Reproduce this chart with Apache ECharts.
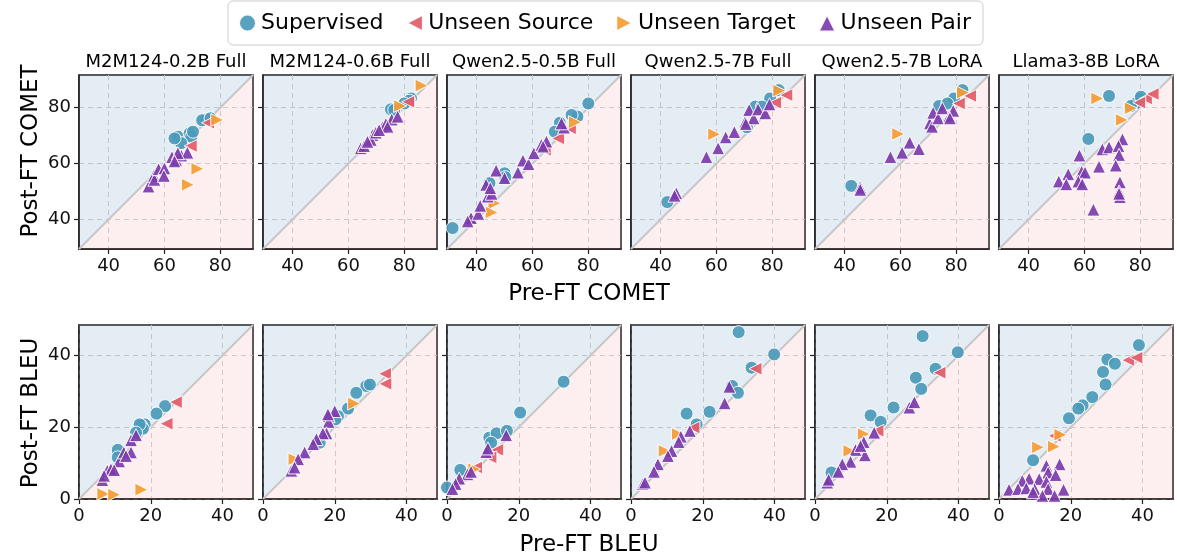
<!DOCTYPE html>
<html>
<head>
<meta charset="utf-8">
<script src="https://cdn.jsdelivr.net/npm/echarts@6/dist/echarts.min.js"></script>
<style>
html,body{margin:0;padding:0;background:#fff}
#chart{width:1177px;height:557px}
</style>
</head>
<body>
<div id="chart"></div>
<script>
var panelTitles = ['M2M124-0.2B Full', 'M2M124-0.6B Full', 'Qwen2.5-0.5B Full', 'Qwen2.5-7B Full', 'Qwen2.5-7B LoRA', 'Llama3-8B LoRA'];
var groupNames = ['Supervised', 'Unseen Source', 'Unseen Target', 'Unseen Pair'];
var cometTicks = [40, 60, 80];
var bleuTicks = [0, 20, 40];
var cometRange = [29.4, 91.7];
var bleuRange = [0, 48.5];

// one list per panel, points are [pre, post]
var cometSupervised = [
    [[75,75.8],[73.5,75.5],[76.5,76.2],[64.8,69.6],[69,70.8],[69.6,69.6],[66,67.3],[63.6,69],[70.2,71.4]],
    [[82.4,83.3],[81.8,82.5],[75.2,79.4],[76.4,79.2],[80,81.5]],
    [[31.4,36.9],[80,81.5],[76.1,76.8],[74,77.4],[69.8,74.6],[68,71.4],[50,56.5],[44.6,53],[50.3,55.1]],
    [[42.4,46.2],[82.3,86.3],[79.2,83.3],[73.9,80.4],[70.9,73],[76.3,80.4]],
    [[42.4,52],[82.2,86.3],[79.2,83.3],[73.8,80.6],[76.8,81.5]],
    [[68.8,84.2],[61.4,68.8],[79.6,83],[78.4,81.5],[76.6,80.6],[80.2,83.9]]
];
var cometSource = [
    [[75.6,74.6],[69.4,66.3]],
    [[81.4,82.1]],
    [[73.4,72.6],[69.2,69],[64.4,64.9]],
    [[81,81.8],[85,84.5]],
    [[80.9,81.5],[84.9,84.2]],
    [[82,83.3],[84.4,84.9],[79.6,81.8]]
];
var cometTarget = [
    [[78.9,75.6],[71.8,58.1],[68.4,52.4]],
    [[86.2,87.9],[78.5,80.6]],
    [[75.2,74.8],[46.4,45.8],[45.4,42.5]],
    [[59.2,70.5],[82.5,86.1]],
    [[59.2,70.6],[82.4,85.4]],
    [[64.6,83.3],[76.6,79.8],[73.4,75.6]]
];
var cometPair = [
    [[54.3,51.8],[56.2,55.6],[56.4,54.2],[57.9,58],[60,58.3],[59.8,55.6],[62.7,62.3],[64.2,61.3],[66,62.9],[68.2,63.9],[64.8,63.7],[63.6,60.8]],
    [[64.4,65.5],[65.6,66.3],[68.6,70.2],[68,68.5],[72.2,73],[73.4,74.2],[75.5,75.8],[77.6,76.8],[69.8,71.1],[66.8,67.8],[74,73.2],[71,72]],
    [[38,40.5],[36.8,39.3],[40.6,42],[41.3,44.9],[44,48.2],[45.4,49.2],[43.4,52.4],[47,57.5],[50,54.8],[54.8,56.8],[56.6,61.1],[58.6,59.8],[60.5,63.7],[63.2,66.7],[65,67.9],[71.3,72.9],[70.4,74.4],[44.9,51.2],[63.8,66.1]],
    [[45.6,49.4],[45,48.5],[56.4,62.3],[60.6,65.5],[63.3,69.4],[66.4,71.3],[70.3,75],[71.7,79.2],[73.3,76.2],[74.9,79.4],[77.5,78],[79,81.2],[70.5,74.2]],
    [[45.6,51.5],[45.6,50.6],[56.4,62.3],[60.6,63.9],[63.3,67.5],[66.6,65.2],[70.5,74.4],[71.3,73.2],[71.7,78.2],[73.5,76.2],[75,79.8],[77.5,77],[78.9,78.9],[77.7,76.2]],
    [[73.6,68.7],[66.4,65.1],[68.8,65.8],[72.2,66.3],[72.4,63.1],[58.2,62.9],[65.2,58.9],[71.2,59.3],[54.2,56.2],[50.8,53.6],[53.5,52.6],[59,57.1],[60.2,56.8],[57.8,53.6],[59.2,52.6],[72.7,53.3],[72.4,50],[72.7,48],[63.2,43.5],[72.4,49.2]]
];

var bleuSupervised = [
    [[24,25.9],[21.6,23.8],[18.3,20.8],[17.4,20.4],[17.8,19.6],[16.9,20.8],[15.9,18.5],[10.8,13.7],[10.8,11.6]],
    [[28.8,31.5],[29.8,31.9],[26,29.6],[23.7,25.2],[20.9,23.1],[20.2,22.2],[15.8,15.7]],
    [[32.5,32.7],[20.4,24.1],[11.8,17.1],[13.8,18.3],[16.7,19],[12.3,15.7],[3.7,8.1],[0,3.2]],
    [[30,46.5],[39.9,40.3],[33.6,36.6],[28.2,31.5],[29.8,29.6],[21.9,24.3],[15.5,23.8],[18.3,20.8]],
    [[30,45.4],[39.8,40.9],[33.6,36.3],[28.1,33.8],[29.6,30.7],[21.9,25.5],[15.5,23.3],[18.3,21.5],[4.6,7.4]],
    [[39,42.9],[30.2,38.9],[32.3,37.7],[29,35.4],[29.7,31.9],[26,28.4],[23.3,26.1],[22.1,25.2],[19.5,22.5],[9.5,10.8]]
];
var bleuSource = [
    [[27,27],[24.4,21]],
    [[34,34.9],[34.1,32.1]],
    [[14,13.7],[12.1,11.6],[8.1,8.8]],
    [[34.7,36.3],[17.4,19.9]],
    [[34.7,35.2],[17.4,19]],
    [[36,38.7],[38.3,39.4],[15.5,17.6]]
];
var bleuTarget = [
    [[6.8,1.4],[9.8,1.2],[17.4,2.6]],
    [[25.4,26.6],[8.8,11.1]],
    [[7.6,8.3]],
    [[13.1,18.1],[9.4,13.4]],
    [[13.6,18.1],[9.6,13.4]],
    [[17.1,17.9],[10.9,14.4],[15.3,14.6]]
];
var bleuPair = [
    [[6.5,5.3],[7.9,7.9],[8.9,8.3],[11.2,10.5],[12.5,13],[14.5,13],[14.5,16.4],[15.9,17.8],[13.1,12],[7,6.5],[9.8,8.1]],
    [[20,24.5],[18.3,23.1],[18.3,21.5],[17.7,18.3],[16.7,18.3],[14.9,16.7],[14,15.3],[11.6,13],[9.8,11.1],[7.9,7.9],[8.8,8.8],[18.1,23.6]],
    [[16.5,17.8],[10.9,13.1],[5.7,6.9],[3.4,5.7],[2.4,4.2],[1.5,2.8],[6.7,7.6],[11.4,14.1]],
    [[27.4,31.3],[26.1,26.7],[16.4,19],[13.9,17.4],[13.3,15.9],[11.3,13.4],[10.3,12],[7.5,9.7],[6.4,7.6],[3.3,4.2],[3.9,4.6]],
    [[26.3,25.5],[27.7,27],[16.5,18.5],[13.6,15.9],[13.9,12.2],[11.3,13.7],[9.9,10.4],[7.6,9.7],[6.5,7.6],[3.4,4.6],[3.8,5.4],[12.7,14.8]],
    [[16.9,9.7],[13.2,9.3],[13.7,7.4],[15.8,6.7],[8.4,5.7],[11.2,5.6],[6.5,5.1],[13.2,4.8],[2.8,2.6],[5.3,2.8],[7.6,3],[9.9,2.8],[13.7,2.8],[18,2.6],[12.1,0.9],[15.5,0.9],[9.5,1.9]]
];

var colors = ['#4b9aba', '#e35b69', '#f59b34', '#7c3bab'];
var symbols = ['circle', 'path://M10,0 L0,5.2 L10,10.4 Z', 'path://M0,0 L10,5.2 L0,10.4 Z', 'triangle'];
var FONT = 'DejaVu Sans';

var chart = echarts.init(document.getElementById('chart'));
var grids = [], xAxes = [], yAxes = [], series = [], graphics = [];

function makeAxis(g, range, ticks, showLabel) {
    return {
        type: 'value', gridIndex: g, min: range[0], max: range[1],
        axisLine: {show: true, onZero: false, lineStyle: {color: '#222', width: 1.5}},
        axisTick: {show: true, length: 5, customValues: ticks, lineStyle: {color: '#222', width: 1.2}},
        axisLabel: {show: showLabel, customValues: ticks, fontSize: 18, color: '#111', fontFamily: FONT, margin: 8},
        splitLine: {show: true, lineStyle: {color: '#d2d2d2', type: [5, 4], width: 1}}
    };
}

for (var row = 0; row < 2; row++) {
    var range = row === 0 ? cometRange : bleuRange;
    var ticks = row === 0 ? cometTicks : bleuTicks;
    var groups = row === 0 ? [cometSupervised, cometSource, cometTarget, cometPair]
                           : [bleuSupervised, bleuSource, bleuTarget, bleuPair];
    for (var col = 0; col < 6; col++) {
        var g = row * 6 + col;
        grids.push({left: 79 + 184 * col, top: row === 0 ? 75 : 325, width: 174, height: 174,
            show: true, borderColor: '#222', borderWidth: 1.5});
        xAxes.push(makeAxis(g, range, ticks, true));
        yAxes.push(makeAxis(g, range, ticks, col === 0));
        var diag = [[range[0], range[0]], [range[1], range[1]]];
        series.push({
            type: 'line', name: 'upper', xAxisIndex: g, yAxisIndex: g, data: diag,
            symbol: 'none', silent: true, z: 1, lineStyle: {width: 0},
            areaStyle: {color: 'rgba(70,130,180,0.2)', origin: 'end'}
        });
        series.push({
            type: 'line', name: 'lower', xAxisIndex: g, yAxisIndex: g, data: diag,
            symbol: 'none', silent: true, z: 1, lineStyle: {width: 2, color: '#c6c6c6'},
            areaStyle: {color: 'rgba(240,125,125,0.18)', origin: 'start'}
        });
        for (var k = 0; k < 4; k++) {
            series.push({
                type: 'scatter', name: groupNames[k], xAxisIndex: g, yAxisIndex: g,
                data: groups[k][col], symbol: symbols[k], symbolSize: k === 0 ? 13 : 13, z: 3 + k,
                itemStyle: {color: colors[k], borderColor: '#fff', borderWidth: 1, opacity: 0.92}
            });
        }
        if (row === 0) {
            graphics.push({type: 'text', x: 79 + 184 * col + 87, y: 62,
                style: {text: panelTitles[col], font: '18px ' + FONT, fill: '#000', align: 'center', verticalAlign: 'middle'}});
        }
    }
}

graphics.push({type: 'text', x: 589, y: 294, style: {text: 'Pre-FT COMET', font: '23px ' + FONT, fill: '#000', align: 'center', verticalAlign: 'middle'}});
graphics.push({type: 'text', x: 589, y: 545, style: {text: 'Pre-FT BLEU', font: '23px ' + FONT, fill: '#000', align: 'center', verticalAlign: 'middle'}});
graphics.push({type: 'text', x: 31, y: 151, rotation: Math.PI / 2, style: {text: 'Post-FT COMET', font: '23px ' + FONT, fill: '#000', align: 'center', verticalAlign: 'middle'}});
graphics.push({type: 'text', x: 31, y: 413, rotation: Math.PI / 2, style: {text: 'Post-FT BLEU', font: '23px ' + FONT, fill: '#000', align: 'center', verticalAlign: 'middle'}});

chart.setOption({
    animation: false,
    legend: {
        data: groupNames, left: 228, top: 1,
        padding: [11, 12, 11, 10], itemGap: 22, itemWidth: 17, itemHeight: 17,
        borderColor: '#cccccc', borderWidth: 1, borderRadius: 5, backgroundColor: '#fff',
        textStyle: {fontSize: 22, color: '#000', fontFamily: FONT}
    },
    grid: grids,
    xAxis: xAxes,
    yAxis: yAxes,
    series: series,
    graphic: graphics
});
</script>
</body>
</html>
